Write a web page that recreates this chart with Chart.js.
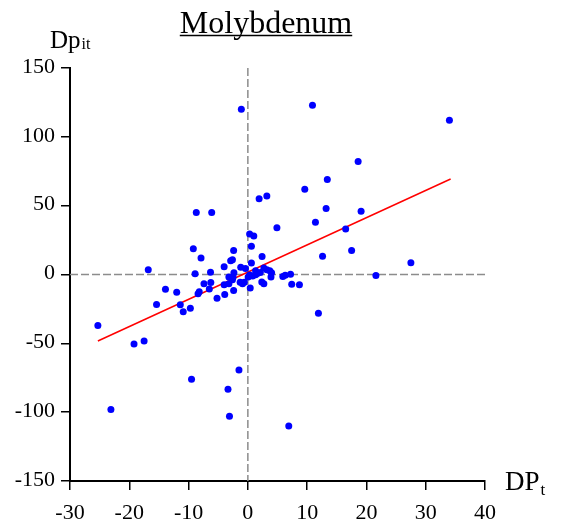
<!DOCTYPE html>
<html>
<head>
<meta charset="utf-8">
<script src="https://cdn.jsdelivr.net/npm/chart.js@4.4.0/dist/chart.umd.min.js"></script>
<style>
  html, body { margin: 0; padding: 0; background: #fff; }
  #wrap { width: 562px; height: 521px; }
</style>
</head>
<body>
<div id="wrap"><canvas id="chart" width="562" height="521"></canvas></div>
<script>
// Scatter values (DP_t, Dp_it)
const dpX = [
  -1.1, 10.9, 34.0, 18.6, 13.4, 9.6, 1.9, 3.2, 13.2, 19.1,
  -8.7, -6.1, 4.9, 11.4, 16.5, 0.3, 1.0, 0.6, -9.2, -2.4,
  17.5, 12.6, 2.4, -7.9, -2.6, -2.9, 0.6, 27.5, -4.0, -1.2,
  -0.4, -16.8, 2.7, 3.2, 3.7, 4.0, 1.3, 1.6, 1.3, 0.3,
  0.8, 2.1, -8.9, -6.3, -2.35, 3.9, 5.9, 6.3, 7.2, 21.6,
  7.4, 8.7, 2.35, 2.7, 0.4, -0.6, -0.9, -1.3, -3.2, -2.5,
  -2.6, 0.05, -4.0, -3.2, -7.4, -6.25, -6.5, -8.2, -8.4, -5.2,
  -3.9, -2.4, -13.9, -12.0, -15.4, -11.4, -10.9, -9.7, -25.3, -19.2,
  -17.5, 11.9, -1.5, -9.5, -3.35, -23.1, -3.1, 6.9
];
const dpY = [
  120, 123, 112, 82, 69, 62, 55, 57, 48, 46,
  45, 45, 34, 38, 33, 29.5, 28, 20.5, 18.7, 17.5,
  17.5, 13.3, 13, 12, 10.7, 10, 8.3, 8.6, 5.7, 5.3,
  4.3, 3.4, 4.7, 3.5, 2.7, 1.3, 2.7, 0.8, -0.2, -0.3,
  -1.0, 1.5, 0.6, 1.6, 1.2, -1.9, -1.5, -0.5, 0.2, -0.7,
  -7.0, -7.4, -5.4, -6.8, -9.8, -5.6, -6.8, -5.6, -1.9, -2.0,
  -3.9, -1.9, -7.5, -6.8, -6.7, -5.8, -10.5, -12.5, -14, -17.3,
  -14.6, -11.7, -10.7, -12.9, -21.8, -22, -27, -24.6, -37, -50.5,
  -48.3, -28.2, -69.4, -76, -83.3, -98, -103, -110
];

// Fitted line end points
const fitX = [-25.3, 34.2];
const fitY = [-48.3, 69.4];

// Axis ranges
const xRange = [-30, 40, 10];
const yRange = [-150, 150, 50];

const serif = '"Liberation Serif", "Times New Roman", serif';

// Dashed zero lines plus title and axis names
const decorations = {
  id: 'decorations',
  beforeDatasetsDraw(chart) {
    const c = chart.ctx;
    const a = chart.chartArea;
    const x0 = chart.scales.x.getPixelForValue(0);
    const y0 = chart.scales.y.getPixelForValue(0);
    c.save();
    c.strokeStyle = '#8c8c8c';
    c.lineWidth = 1.5;
    c.setLineDash([8, 3]);
    c.beginPath();
    c.moveTo(x0, a.top);
    c.lineTo(x0, a.bottom);
    c.moveTo(a.left, y0);
    c.lineTo(a.right, y0);
    c.stroke();
    c.restore();
  },
  afterDraw(chart) {
    const c = chart.ctx;
    c.save();
    c.fillStyle = '#000';
    c.textBaseline = 'alphabetic';

    // title, underlined
    c.font = '32px ' + serif;
    c.textAlign = 'center';
    c.fillText('Molybdenum', 266, 33);
    const w = c.measureText('Molybdenum').width;
    c.strokeStyle = '#000';
    c.lineWidth = 1.5;
    c.beginPath();
    c.moveTo(266 - w / 2, 35.5);
    c.lineTo(266 + w / 2, 35.5);
    c.stroke();

    // y axis name
    c.textAlign = 'left';
    c.font = '25px ' + serif;
    c.fillText('Dp', 50, 48);
    const dw = c.measureText('Dp').width;
    c.font = '16px ' + serif;
    c.fillText('it', 50 + dw + 1, 49);

    // x axis name
    c.font = '27px ' + serif;
    c.fillText('DP', 505, 490);
    const pw = c.measureText('DP').width;
    c.font = '17px ' + serif;
    c.fillText('t', 505 + pw + 1, 495);
    c.restore();
  }
};

const points = dpX.map((x, i) => ({ x: x, y: dpY[i] }));
const fitLine = fitX.map((x, i) => ({ x: x, y: fitY[i] }));

new Chart(document.getElementById('chart').getContext('2d'), {
  type: 'scatter',
  data: {
    datasets: [
      {
        label: 'Dp',
        data: points,
        backgroundColor: '#0000ff',
        borderWidth: 0,
        pointRadius: 3.5
      },
      {
        type: 'line',
        label: 'fit',
        data: fitLine,
        borderColor: '#ff0000',
        borderWidth: 1.5,
        pointRadius: 0,
        fill: false
      }
    ]
  },
  options: {
    responsive: false,
    animation: false,
    layout: { padding: { top: 68, right: 77, left: 0, bottom: 0 } },
    plugins: {
      legend: { display: false },
      tooltip: { enabled: false }
    },
    scales: {
      x: {
        type: 'linear',
        min: xRange[0],
        max: xRange[1],
        afterFit(scale) { scale.height = 40; },
        ticks: {
          stepSize: xRange[2],
          color: '#000',
          padding: 10,
          font: { family: serif, size: 22 }
        },
        grid: {
          drawOnChartArea: false,
          drawTicks: true,
          tickLength: 9,
          color: '#000',
          lineWidth: 1.5
        },
        border: { display: true, color: '#000', width: 2 }
      },
      y: {
        type: 'linear',
        min: yRange[0],
        max: yRange[1],
        afterFit(scale) { scale.width = 70; },
        ticks: {
          stepSize: yRange[2],
          color: '#000',
          padding: 6,
          labelOffset: -1,
          font: { family: serif, size: 22 }
        },
        grid: {
          drawOnChartArea: false,
          drawTicks: true,
          tickLength: 9,
          color: '#000',
          lineWidth: 1.5
        },
        border: { display: true, color: '#000', width: 2 }
      }
    }
  },
  plugins: [decorations]
});
</script>
</body>
</html>
